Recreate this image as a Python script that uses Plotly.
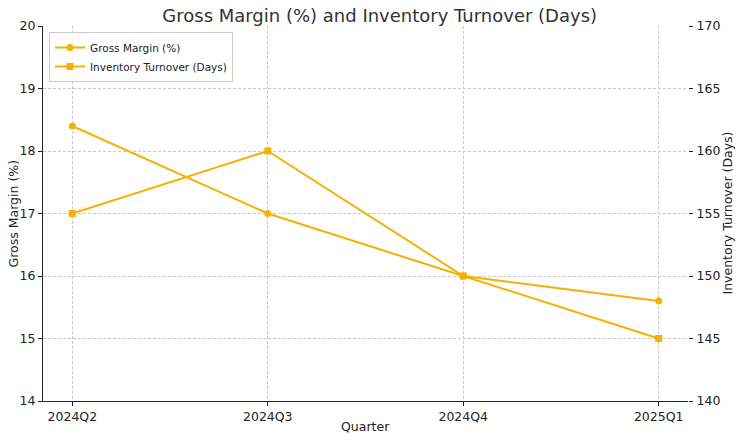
import plotly.graph_objects as go

quarters = ["2024Q2", "2024Q3", "2024Q4", "2025Q1"]
gross_margin = [18.4, 17.0, 16.0, 15.6]
inventory_turnover = [155, 160, 150, 145]

color = "#f5b000"
font = "DejaVu Sans"
grid = dict(showgrid=True, gridcolor="#c8c8c8", griddash="3px,2px", gridwidth=0.8)

fig = go.Figure()
fig.add_trace(go.Scatter(x=quarters, y=gross_margin, mode="lines+markers",
                         name="Gross Margin (%)", line=dict(color=color, width=2),
                         marker=dict(symbol="circle", size=7, color=color)))
fig.add_trace(go.Scatter(x=quarters, y=inventory_turnover, mode="lines+markers",
                         name="Inventory Turnover (Days)", line=dict(color=color, width=2),
                         marker=dict(symbol="square", size=7, color=color), yaxis="y2"))

title_font = dict(size=12.5, color="#222", family=font)

fig.update_layout(
    width=740, height=441,
    margin=dict(l=43, r=52, t=26, b=40, autoexpand=False),
    paper_bgcolor="white", plot_bgcolor="white",
    font=dict(family=font, size=12.5, color="#222"),
    title=dict(text="Gross Margin (%) and Inventory Turnover (Days)", x=0.522, xref="paper",
               y=0.964, yref="container", yanchor="middle", font=dict(size=18, color="#333")),
    xaxis=dict(range=[-0.15, 3.15], showline=True, automargin=False,
               linecolor="#222", linewidth=1.2, ticks="outside", ticklen=4, tickcolor="#222",
               zeroline=False, tickfont=dict(size=12.5), **grid),
    yaxis=dict(range=[14, 20], dtick=1, automargin=False,
               showline=True, linecolor="#222", linewidth=1.2, ticks="outside", ticklen=4,
               tickcolor="#222", zeroline=False, tickfont=dict(size=12.5), **grid),
    yaxis2=dict(range=[140, 170], dtick=5, automargin=False,
                overlaying="y", side="right", showline=False, ticks="outside", ticklen=4,
                ticklabelstandoff=1,
                tickcolor="#222", showgrid=False, zeroline=False, tickfont=dict(size=12.5)),
    legend=dict(x=0.0093, y=0.984, xanchor="left", yanchor="top", bgcolor="rgba(255,255,255,0.8)",
                bordercolor="#cccccc", borderwidth=1, font=dict(size=10.5),
                tracegroupgap=0, itemwidth=30),
    showlegend=True,
    annotations=[
        dict(text="Quarter", xref="paper", yref="paper", x=0.5, y=-0.069,
             xanchor="center", yanchor="middle", showarrow=False, font=title_font),
        dict(text="Gross Margin (%)", xref="paper", yref="paper", x=-0.045, y=0.5,
             xanchor="center", yanchor="middle", textangle=-90, showarrow=False, font=title_font),
        dict(text="Inventory Turnover (Days)", xref="paper", yref="paper", x=1.0605, y=0.5,
             xanchor="center", yanchor="middle", textangle=-90, showarrow=False, font=title_font),
    ],
)

fig.write_html("out.html", config={"displayModeBar": False},
               post_script="document.body.style.margin='0';document.body.style.overflow='hidden';")
